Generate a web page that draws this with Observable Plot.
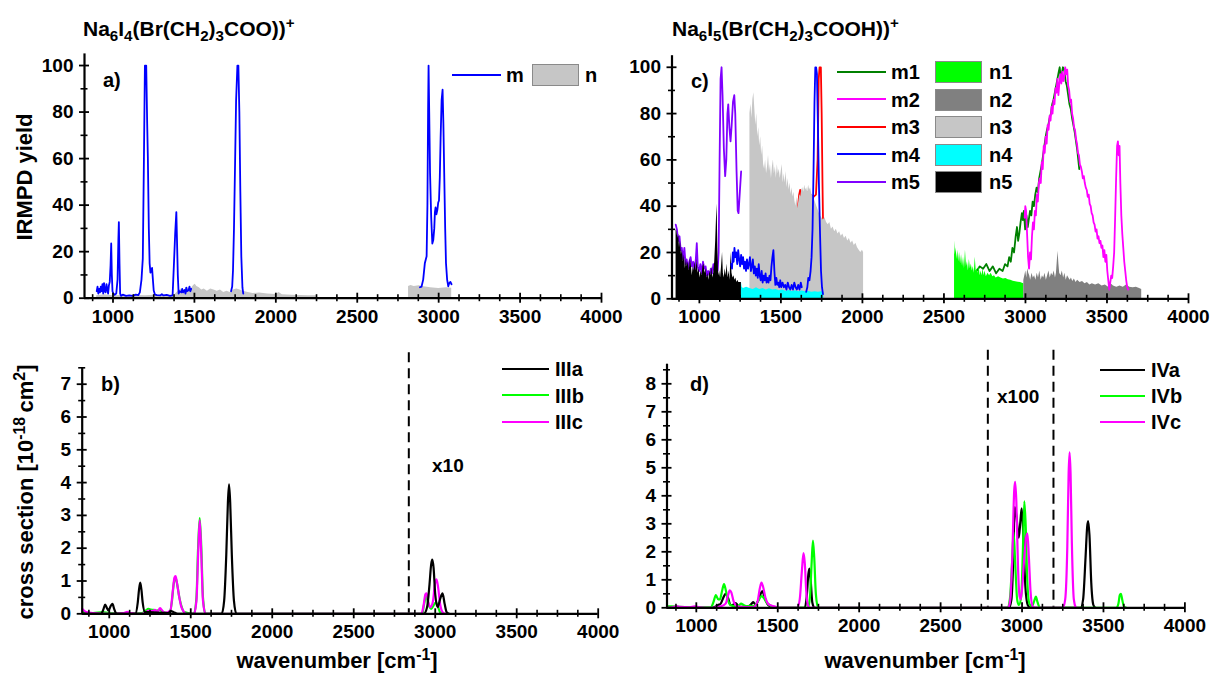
<!DOCTYPE html>
<html><head><meta charset="utf-8">
<script src="https://cdn.jsdelivr.net/npm/d3@7"></script>
<script src="https://cdn.jsdelivr.net/npm/@observablehq/plot@0.6"></script>
<style>
body{margin:0;background:#fff;}
#root{position:relative;width:1213px;height:677px;overflow:hidden;font-family:"Liberation Sans",Arial,sans-serif;font-weight:bold;color:#000;}
.t{position:absolute;white-space:nowrap;line-height:1;}
.vc{transform:translateY(-50%);}
.rot{transform:translate(-50%,-50%) rotate(-90deg);}
.ctr{transform:translate(-50%,-50%);}
sub,sup{font-size:0.72em;line-height:0;}
.pb{position:absolute;}
.ln{position:absolute;height:0;}
.sw{position:absolute;box-sizing:border-box;border:1px solid #8a8a8a;}
</style></head><body><div id="root"></div>
<script>
// ---------------- DATA ----------------
// ticks
const xMajor = [1000,1500,2000,2500,3000,3500,4000];
const yMajorTop = [0,20,40,60,80,100];
const yMinorTop = [10,30,50,70,90];
const yMajorB = [0,1,2,3,4,5,6,7];
const yMajorD = [0,1,2,3,4,5,6,7,8];

// Panel a: Na6I4(Br(CH2)3COO))+
const a_m = [[900,3],[905,5],[910,2],[915,4],[920,2.5],[925,5],[930,3],[935,6],[940,2],[945,6.5],[950,3],[955,2.5],[960,6],[965,4],[970,2],[975,5.5],[980,7],[985,14],[989,23.5],[993,10],[997,3],[1002,2],[1010,1.5],[1020,2],[1028,8],[1033,25],[1036,32.7],[1040,15],[1044,2],[1050,1],[1060,1.5],[1080,1],[1100,1.2],[1120,1],[1140,1.5],[1155,1.3],[1165,2.5],[1175,8],[1183,17],[1190,60],[1196,100],[1204,100],[1210,75],[1214,61],[1220,30],[1225,15],[1230,11],[1235,12],[1240,13],[1245,8],[1250,3.3],[1258,1.5],[1270,1.3],[1290,1.2],[1300,1.7],[1310,1.2],[1330,1.4],[1350,1.0],[1366,1.2],[1375,16],[1382,28],[1389,37],[1394,22],[1398,10],[1403,2],[1410,3],[1420,2.5],[1425,4],[1430,2.5],[1440,3.5],[1445,2],[1450,4.5],[1455,3],[1465,3.5],[1470,5],[1475,3],[1480,4],[1490,null],
  [1725,3],[1732,5],[1737,12],[1743,30],[1749,55],[1756,85],[1764,100],[1770,100],[1776,80],[1782,46],[1788,18],[1795,4.5],[1800,2],[1850,null],
  [2885,4.7],[2895,5],[2905,8],[2915,15],[2926,18],[2931,40],[2935,80],[2938,100],[2942,80],[2947,54],[2954,35],[2961,23.5],[2967,25],[2973,30],[2977,37],[2981,39],[2986,36],[2992,38],[2997,41],[3002,42],[3007,52],[3012,69],[3018,85],[3024,89.6],[3029,75],[3034,54],[3040,30],[3045,15],[3052,8],[3059,5.1],[3065,6.5],[3072,7],[3079,6]];
const a_n_low = [[900,1],[950,1.5],[1000,1],[1050,1.2],[1100,1],[1150,1.2],[1200,1],[1250,1.3],[1300,1],[1350,1.2],[1380,1.5],[1400,3],[1420,4],[1440,3.5],[1460,4.5],[1480,4],[1495,5.5],[1505,6],[1515,5],[1530,4.5],[1545,3.5],[1560,4],[1580,3],[1600,4],[1620,3.5],[1640,3],[1660,3.5],[1680,2.5],[1700,3],[1720,2.5],[1740,3.5],[1760,4],[1780,3.5],[1800,3],[1830,2.5],[1860,2],[1900,2.2],[1950,1.8],[2000,1.6],[2020,2.5],[2040,1.5],[2100,1.3],[2150,1.2],[2200,1.1],[2250,1]];
const a_n_high = [[2815,5],[2830,5.5],[2850,5],[2880,5.3],[2900,5],[2950,4.5],[3000,4.2],[3050,4.5],[3080,4.3]];

// Panel c: Na6I5(Br(CH2)3COOH))+
const c_m1 = [[2700,12],[2720,14],[2740,13],[2760,15],[2780,12],[2800,14],[2820,11],[2840,13],[2860,12],[2875,15],[2890,14],[2900,18],[2910,16],[2920,22],[2930,20],[2940,27],[2948,31],[2955,25],[2962,28],[2970,33],[2978,37],[2984,34],[2990,38],[2998,30],[3006,36],[3014,31],[3020,34],[3028,38],[3036,36],[3044,42],[3052,40],[3060,45],[3068,48],[3076,46],[3084,52],[3092,55],[3100,58],[3108,62],[3116,66],[3124,70],[3132,73],[3140,75],[3148,78],[3156,80],[3164,84],[3172,86],[3180,89],[3188,92],[3196,95],[3204,98],[3210,100],[3216,96],[3222,97],[3230,100],[3238,99],[3246,94],[3254,92],[3262,88],[3270,84],[3278,82],[3286,78],[3294,75],[3302,72],[3310,68],[3318,64],[3324,60],[3330,56]];
const c_m2 = [[2995,35],[2999,40],[3004,38],[3010,28],[3016,18],[3022,13],[3028,20],[3034,17],[3040,27],[3046,33],[3052,30],[3058,38],[3064,36],[3070,45],[3076,42],[3082,50],[3088,52],[3094,50],[3100,59],[3106,56],[3112,66],[3118,63],[3124,70],[3130,67],[3136,75],[3142,73],[3148,79],[3154,77],[3160,83],[3166,80],[3172,86],[3178,84],[3184,91],[3190,89],[3196,95],[3202,88],[3208,93],[3214,97],[3220,93],[3226,98],[3232,94],[3238,96],[3244,100],[3250,97],[3256,99],[3262,92],[3268,90],[3274,85],[3280,86],[3286,80],[3292,78],[3298,74],[3304,73],[3310,69],[3316,67],[3322,63],[3328,62],[3334,58],[3340,57],[3346,55],[3352,52],[3358,53],[3364,50],[3370,48],[3376,47],[3382,44],[3388,45],[3394,41],[3400,40],[3406,37],[3412,36],[3418,33],[3424,32],[3430,29],[3436,30],[3442,26],[3448,27],[3454,24],[3460,25],[3466,22],[3472,23],[3478,18],[3484,21],[3490,16],[3496,19],[3502,12],[3508,8],[3514,4],[3520,7],[3526,10],[3532,9],[3538,14],[3544,20],[3550,35],[3556,52],[3562,66],[3567,68],[3572,62],[3577,66],[3582,50],[3588,36],[3594,28],[3600,22],[3606,16],[3612,12],[3618,8],[3624,5],[3630,4]];
const c_m3 = [[1595,38],[1605,40],[1612,45],[1618,47],[1625,44],[1640,45],[1660,46],[1680,45],[1700,44],[1715,45],[1725,60],[1732,95],[1737,100],[1745,100],[1750,80],[1755,50],[1758,35],[1762,33]];
const c_m4 = [[1195,15],[1200,13],[1205,20],[1210,16],[1215,22],[1220,18],[1226,20],[1232,15],[1238,21],[1244,17],[1250,14],[1256,19],[1262,15],[1268,18],[1274,13],[1280,16],[1286,12],[1292,17],[1298,13],[1304,15],[1310,18],[1316,12],[1322,14],[1328,17],[1334,11],[1340,14],[1346,10],[1352,13],[1358,9],[1364,15],[1370,10],[1376,8],[1382,12],[1388,7],[1394,10],[1400,8],[1406,11],[1412,7],[1418,9],[1424,7],[1430,10],[1436,8],[1442,14],[1448,18],[1454,21],[1460,12],[1466,6],[1472,9],[1478,6],[1484,7],[1490,5],[1496,8],[1502,5],[1510,7],[1518,5],[1526,6],[1534,4],[1542,7],[1550,5],[1558,4],[1566,6],[1574,4],[1582,7],[1590,5],[1598,4],[1606,6],[1614,4],[1622,7],[1628,5],[1640,null],
  [1655,3],[1662,5],[1668,9],[1675,8],[1682,12],[1688,18],[1694,30],[1700,55],[1706,85],[1711,100],[1716,100],[1721,97],[1727,75],[1733,50],[1740,28],[1746,12],[1752,5],[1758,2]];
const c_m5 = [[855,32],[862,30],[870,25],[878,27],[885,21],[892,22],[900,17],[908,22],[915,15],[922,17],[930,13],[938,16],[946,18],[954,14],[962,16],[970,12],[978,17],[984,24],[990,14],[998,12],[1006,15],[1014,11],[1022,16],[1030,13],[1038,14],[1046,10],[1054,12],[1062,10],[1070,13],[1078,11],[1086,15],[1094,12],[1100,14],[1106,16],[1112,12],[1118,20],[1124,60],[1130,95],[1136,100],[1142,88],[1150,65],[1158,53],[1165,60],[1172,80],[1177,84],[1184,74],[1191,68],[1198,75],[1206,85],[1214,88],[1220,80],[1228,55],[1235,38],[1240,37],[1248,46],[1256,55]];
const c_n1 = [[2565,25],[2570,19],[2575,22],[2580,17],[2585,21],[2590,16],[2596,20],[2602,15],[2608,19],[2614,14],[2620,18],[2626,13],[2632,21],[2638,14],[2644,16],[2650,12],[2656,17],[2662,13],[2668,15],[2674,12],[2680,14],[2686,11],[2692,18],[2698,12],[2704,13],[2710,11],[2716,14],[2722,10],[2728,12],[2734,10],[2740,13],[2746,10],[2752,12],[2760,9.5],[2770,11],[2780,10],[2790,11],[2800,9.5],[2810,10],[2820,9],[2835,9.5],[2850,9],[2865,8.5],[2880,8.8],[2895,8.2],[2910,8],[2925,7.6],[2940,7.4],[2955,7.2],[2970,7],[2985,6.6],[2990,6.5]];
const c_n2 = [[2990,8],[2996,10],[3002,12],[3008,9],[3014,13],[3020,11],[3026,10],[3032,8],[3040,11],[3048,9],[3056,10],[3064,8],[3072,11],[3080,9],[3088,12],[3096,8],[3104,10],[3112,9],[3120,11],[3128,8],[3136,10],[3144,12],[3152,9],[3160,11],[3168,10],[3176,12],[3184,9],[3190,11],[3195,16],[3200,20.5],[3205,15],[3210,11],[3218,10],[3226,12],[3234,9],[3242,11],[3250,8],[3258,10],[3266,9],[3274,8],[3282,9],[3290,7.5],[3300,8.5],[3310,7],[3320,8],[3335,7],[3350,7.5],[3365,6.5],[3380,7],[3395,6],[3410,6.5],[3430,6],[3450,6.5],[3470,5.5],[3490,6],[3510,5],[3525,6.5],[3540,5.5],[3560,5],[3580,5.5],[3600,5],[3620,6],[3640,5],[3660,4.8],[3680,5],[3700,4.5],[3713,4]];
const c_n3 = [[1310,80],[1316,84],[1322,78],[1328,86],[1334,89],[1340,82],[1346,75],[1352,80],[1358,70],[1364,74],[1370,66],[1376,70],[1382,62],[1388,66],[1394,58],[1400,56],[1406,60],[1412,54],[1418,57],[1424,62],[1430,55],[1436,58],[1442,52],[1448,57],[1454,60],[1460,54],[1466,57],[1472,52],[1478,58],[1484,54],[1490,56],[1496,52],[1502,55],[1508,58],[1514,50],[1520,54],[1526,50],[1532,55],[1538,48],[1544,52],[1550,47],[1556,50],[1562,45],[1568,48],[1574,44],[1580,46],[1586,42],[1592,40],[1598,44],[1604,39],[1610,42],[1616,45],[1622,44],[1628,47],[1634,48],[1640,46],[1646,49],[1652,47],[1658,48],[1664,46],[1670,49],[1676,47],[1682,48],[1690,45],[1700,44],[1710,42],[1720,40],[1730,38],[1740,36],[1750,35],[1760,34],[1770,35],[1780,33],[1790,32],[1800,33],[1810,30],[1820,31],[1830,29],[1840,30],[1850,28],[1860,29],[1870,27],[1880,28],[1890,26],[1900,27],[1910,25],[1920,26],[1930,24],[1940,25],[1950,23],[1960,24],[1970,22],[1980,21],[1990,20],[2000,21],[2007,20]];
const c_n4 = [[1258,7],[1262,5],[1270,4.5],[1290,5],[1310,4.5],[1330,4],[1350,4.8],[1370,4],[1390,4.5],[1410,3.8],[1430,4.3],[1450,3.8],[1470,4],[1490,3.5],[1510,3.8],[1530,3.3],[1550,3.6],[1570,3.2],[1590,3.5],[1610,3],[1630,3.4],[1650,3],[1670,3.2],[1690,2.8],[1710,3],[1730,2.8],[1750,3],[1763,2.8]];
const c_n5 = [[857,30],[862,29],[868,26],[873,28],[878,22],[884,25],[890,19],[896,21],[902,16],[908,19],[914,13],[920,17],[926,14],[932,16],[938,12],[944,17],[950,15],[956,10],[962,14],[968,12],[974,16],[980,12],[986,17],[992,11],[998,13],[1004,9],[1010,12],[1016,10],[1022,14],[1028,15],[1034,11],[1040,13],[1046,9],[1052,11],[1058,8],[1064,12],[1070,10],[1076,14],[1082,9],[1088,11],[1094,16],[1100,25],[1105,35],[1109,41],[1113,22],[1118,10],[1124,12],[1130,9],[1136,14],[1142,20],[1147,11],[1152,9],[1158,13],[1164,10],[1170,15],[1176,9],[1182,12],[1188,8],[1194,20],[1200,11],[1206,9],[1212,10],[1218,8],[1224,9],[1230,7],[1236,8],[1242,7],[1250,7],[1258,7]];

// Panel b: calculated IIIa-c
const b_IIIa = [[840,0],[950,0],[965,0.15],[975,0.28],[985,0.18],[995,0.1],[1010,0.25],[1020,0.3],[1030,0.15],[1045,0],[1160,0],[1175,0.35],[1183,0.75],[1190,0.95],[1197,0.75],[1205,0.35],[1220,0.05],[1240,0.05],[1360,0.02],[1380,0.08],[1395,0.05],[1420,0],[1690,0],[1705,0.4],[1718,1.8],[1728,3.4],[1735,3.95],[1742,3.4],[1752,1.8],[1765,0.4],[1780,0],[2930,0],[2950,0.2],[2965,0.9],[2975,1.5],[2982,1.65],[2990,1.4],[3000,0.6],[3015,0.2],[3030,0.45],[3045,0.62],[3058,0.3],[3070,0.05],[3085,0]];
const b_IIIb = [[840,0.05],[870,0.03],[900,0.02],[960,0.05],[1000,0.02],[1200,0.02],[1225,0.1],[1240,0.15],[1255,0.13],[1270,0.12],[1290,0.1],[1310,0.12],[1330,0.05],[1370,0.02],[1385,0.4],[1395,0.9],[1405,1.1],[1415,0.95],[1430,0.5],[1445,0.2],[1460,0.05],[1520,0],[1535,0.5],[1545,2.0],[1555,2.92],[1565,2.0],[1575,0.5],[1590,0],[2920,0],[2932,0.3],[2945,0.55],[2958,0.3],[2975,0.15],[2995,0.3],[3005,0.35],[3015,0.25],[3030,0.05],[3050,0]];
const b_IIIc = [[835,0.15],[845,0.1],[860,0.05],[900,0.02],[1000,0],[1090,0.02],[1110,0.06],[1130,0.02],[1200,0],[1225,0.05],[1245,0.1],[1265,0.08],[1280,0.12],[1295,0.06],[1312,0.17],[1325,0.1],[1340,0.03],[1375,0.1],[1390,0.7],[1400,1.1],[1407,1.15],[1415,0.95],[1428,0.55],[1440,0.25],[1455,0.08],[1470,0],[1520,0],[1535,0.4],[1546,1.9],[1555,2.85],[1564,1.9],[1575,0.4],[1590,0],[2915,0],[2930,0.3],[2940,0.6],[2947,0.62],[2958,0.35],[2970,0.2],[2985,0.35],[2998,0.9],[3008,1.05],[3018,0.8],[3030,0.3],[3045,0.05],[3060,0]];
const b_scaleLines = [2838];
const b_scaleText = "x10";

// Panel d: calculated IVa-c
const d_IVa = [[1100,0],[1120,0.05],[1135,0.1],[1150,0.15],[1165,0.35],[1180,0.5],[1195,0.35],[1210,0.1],[1230,0.12],[1242,0.17],[1255,0.08],[1280,0.03],[1320,0.05],[1340,0.15],[1350,0.2],[1362,0.12],[1380,0.25],[1395,0.5],[1405,0.6],[1418,0.4],[1435,0.15],[1460,0.03],[1480,0],[1665,0],[1678,0.4],[1688,1.2],[1694,1.4],[1702,1.0],[1712,0.2],[1725,0],[2920,0],[2935,0.3],[2945,1.5],[2955,3.6],[2965,3.3],[2980,2.5],[2990,3.1],[2998,3.55],[3008,2.6],[3020,0.8],[3035,0.1],[3050,0],[3360,0],[3375,0.3],[3390,1.8],[3400,2.9],[3406,3.1],[3414,2.6],[3425,0.9],[3438,0.1],[3450,0]];
const d_IVb = [[820,0.05],[850,0.05],[900,0.03],[950,0.02],[1000,0.02],[1090,0.02],[1105,0.2],[1120,0.45],[1135,0.3],[1145,0.3],[1158,0.6],[1170,0.85],[1182,0.6],[1195,0.25],[1210,0.1],[1240,0.05],[1260,0.08],[1275,0.15],[1290,0.1],[1310,0.05],[1330,0.08],[1350,0.05],[1370,0.15],[1385,0.3],[1400,0.42],[1415,0.35],[1430,0.2],[1450,0.1],[1470,0.03],[1490,0],[1685,0],[1698,0.4],[1708,1.6],[1716,2.4],[1724,1.8],[1734,0.5],[1748,0],[2910,0],[2925,0.3],[2938,1.5],[2948,2.7],[2958,1.6],[2970,0.3],[2980,0.1],[2995,0.4],[3005,2.0],[3014,3.8],[3022,3.0],[3032,1.0],[3045,0.15],[3060,0.05],[3075,0.25],[3085,0.4],[3095,0.2],[3110,0],[3580,0],[3592,0.15],[3600,0.45],[3607,0.5],[3615,0.3],[3625,0.05],[3640,0]];
const d_IVc = [[820,0],[860,0.03],[880,0.06],[900,0.03],[960,0.02],[990,0.05],[1020,0.02],[1100,0],[1150,0.05],[1180,0.15],[1195,0.45],[1205,0.62],[1215,0.55],[1228,0.25],[1245,0.08],[1270,0.03],[1350,0.02],[1375,0.2],[1390,0.7],[1400,0.9],[1410,0.75],[1425,0.35],[1440,0.15],[1460,0.08],[1480,0.05],[1500,0],[1620,0],[1635,0.3],[1648,1.3],[1658,1.95],[1666,1.6],[1675,0.6],[1688,0.05],[1700,0],[2915,0],[2928,0.3],[2940,1.8],[2952,4.2],[2958,4.5],[2965,3.8],[2975,1.5],[2985,0.4],[2992,0.3],[3002,0.8],[3015,1.9],[3025,2.5],[3033,2.65],[3042,1.8],[3052,0.6],[3065,0.05],[3080,0],[3250,0],[3265,0.3],[3278,2.2],[3286,4.8],[3292,5.55],[3298,4.8],[3306,2.3],[3318,0.3],[3330,0]];
const d_scaleLines = [2790, 3193];
const d_scaleText = "x100";

// ---------------- RENDER ----------------
const root = document.getElementById("root");
const FONT = '"Liberation Sans", Arial, sans-serif';
const X = d => d[0], Y = d => d[1];

function minorTicks(lo, hi, step, majors) {
  return d3.range(Math.ceil(lo/step)*step, hi + 1e-9, step).filter(v => !majors.some(m => Math.abs(m - v) < 1e-9));
}

function panel(o) {
  const iw = o.width - o.mL - o.mR, ih = o.height - o.mT - o.mB;
  const xMinor = minorTicks(o.xDomain[0], o.xDomain[1], 125, xMajor);
  const svg = Plot.plot({
    width: o.width, height: o.height,
    marginLeft: o.mL, marginRight: o.mR, marginTop: o.mT, marginBottom: o.mB,
    x: {domain: o.xDomain, ticks: xMajor, tickSize: 0, tickPadding: 11, tickFormat: d => String(d), label: null},
    y: {domain: o.yDomain, ticks: o.yMajor, tickSize: 0, tickPadding: 11, tickFormat: d => String(d), label: null},
    style: {fontFamily: FONT, fontSize: "19px", fontWeight: "bold", color: "#000", background: "transparent", overflow: "visible"},
    marks: [
      ...o.marks,
      Plot.ruleY([0], {stroke: "#000", strokeWidth: 2.2}),
      Plot.ruleX([o.xDomain[0]], {stroke: "#000", strokeWidth: 2.2}),
      Plot.ruleX(xMajor, {x: d => d, stroke: "#000", strokeWidth: 1.8, insetTop: ih - 5, insetBottom: -5}),
      Plot.ruleX(xMinor, {x: d => d, stroke: "#000", strokeWidth: 1.6, insetTop: ih - 3.5, insetBottom: -3.5}),
      Plot.ruleY(o.yMajor, {y: d => d, stroke: "#000", strokeWidth: 1.8, insetLeft: -5, insetRight: iw - 5}),
      Plot.ruleY(o.yMinor, {y: d => d, stroke: "#000", strokeWidth: 1.6, insetLeft: -3.5, insetRight: iw - 3.5})
    ]
  });
  const box = document.createElement("div");
  box.className = "pb";
  Object.assign(box.style, {left: o.left + "px", top: o.top + "px", width: o.width + "px", height: o.height + "px"});
  box.appendChild(svg);
  root.appendChild(box);
}

const lineOpt = (stroke, w = 1.8) => ({x: X, y: Y, stroke, strokeWidth: w});
const areaOpt = (fill) => ({x: X, y: Y, fill, fillOpacity: 1});
const calcOpt = (stroke) => ({x: X, y: Y, stroke, strokeWidth: 2.2, curve: "monotone-x"});

// panel a
panel({left: 0, top: 0, width: 615, height: 340, mL: 84, mR: 14, mT: 53.4, mB: 42.3,
  xDomain: [825, 4000], yDomain: [0, 105], yMajor: yMajorTop, yMinor: yMinorTop,
  marks: [
    Plot.areaY(a_n_low, areaOpt("#c6c6c6")),
    Plot.areaY(a_n_high, areaOpt("#c6c6c6")),
    Plot.line(a_m, lineOpt("#0000ff"))
  ]});

// panel c
panel({left: 615, top: 0, width: 598, height: 340, mL: 56.5, mR: 25, mT: 55.2, mB: 41.7,
  xDomain: [832, 4000], yDomain: [0, 105], yMajor: yMajorTop, yMinor: yMinorTop,
  marks: [
    Plot.line(c_m3, lineOpt("#ff0000")),
    Plot.areaY(c_n3, areaOpt("#c6c6c6")),
    Plot.line(c_m5, lineOpt("#8000ff")),
    Plot.areaY(c_n5, areaOpt("#000000")),
    Plot.areaY(c_n4, areaOpt("#00ffff")),
    Plot.line(c_m4, lineOpt("#0000ff")),
    Plot.line(c_m1, lineOpt("#008000")),
    Plot.areaY(c_n1, areaOpt("#00ff00")),
    Plot.areaY(c_n2, areaOpt("#808080")),
    Plot.line(c_m2, lineOpt("#ff00ff"))
  ]});

// panel b
panel({left: 0, top: 340, width: 615, height: 337, mL: 81.7, mR: 17.3, mT: 27.3, mB: 63.7,
  xDomain: [834, 4000], yDomain: [0, 7.5], yMajor: yMajorB, yMinor: minorTicks(0, 7.5, 0.5, yMajorB),
  marks: [
    Plot.ruleX(b_scaleLines, {x: d => d, stroke: "#000", strokeWidth: 2, strokeDasharray: "10,6", insetTop: -15}),
    Plot.line(b_IIIb, calcOpt("#00ff00")),
    Plot.line(b_IIIc, calcOpt("#ff00ff")),
    Plot.line(b_IIIa, calcOpt("#000000"))
  ]});

// panel d
panel({left: 615, top: 340, width: 598, height: 337, mL: 51.5, mR: 28.6, mT: 23.7, mB: 69.7,
  xDomain: [820, 4000], yDomain: [0, 8.7], yMajor: yMajorD, yMinor: minorTicks(0, 8.7, 0.5, yMajorD),
  marks: [
    Plot.ruleX(d_scaleLines, {x: d => d, stroke: "#000", strokeWidth: 2, strokeDasharray: "10,6", insetTop: -14}),
    Plot.line(d_IVa, calcOpt("#000000")),
    Plot.line(d_IVb, calcOpt("#00ff00")),
    Plot.line(d_IVc, calcOpt("#ff00ff"))
  ]});

// ---------------- TEXT & LEGENDS ----------------
function txt(html, left, top, size, cls = "t vc") {
  const d = document.createElement("div");
  d.className = cls;
  d.innerHTML = html;
  Object.assign(d.style, {left: left + "px", top: top + "px", fontSize: size + "px"});
  root.appendChild(d);
  return d;
}
function legLine(color, x1, x2, y) {
  const d = document.createElement("div");
  d.className = "ln";
  Object.assign(d.style, {left: x1 + "px", top: (y - 1.25) + "px", width: (x2 - x1) + "px", borderTop: "2.5px solid " + color});
  root.appendChild(d);
}
function legBox(color, x, y, w, h) {
  const d = document.createElement("div");
  d.className = "sw";
  Object.assign(d.style, {left: x + "px", top: y + "px", width: w + "px", height: h + "px", background: color});
  root.appendChild(d);
}

// titles
txt("Na<sub>6</sub>I<sub>4</sub>(Br(CH<sub>2</sub>)<sub>3</sub>COO))<sup>+</sup>", 83, 28, 21);
txt("Na<sub>6</sub>I<sub>5</sub>(Br(CH<sub>2</sub>)<sub>3</sub>COOH))<sup>+</sup>", 672, 28, 21);
// axis titles
txt("IRMPD yield", 25, 177, 22, "t rot");
txt("cross section [10<sup>-18</sup>&thinsp;cm<sup>2</sup>]", 26, 492, 22, "t rot");
txt("wavenumber [cm<sup>-1</sup>]", 337, 661, 22, "t ctr");
txt("wavenumber [cm<sup>-1</sup>]", 925, 661, 22, "t ctr");
// panel labels
txt("a)", 103, 80, 20);
txt("b)", 101, 384, 20);
txt("c)", 691, 81, 20);
txt("d)", 690, 384, 20);
txt(b_scaleText, 432, 465, 19);
txt(d_scaleText, 997, 396, 19);

// legend a
const legA = [{k: "m", c: "#0000ff"}, {k: "n", c: "#c6c6c6"}];
legLine(legA[0].c, 452, 501, 75); txt(legA[0].k, 506, 75, 20);
legBox(legA[1].c, 532, 64, 47, 22); txt(legA[1].k, 585, 75, 20);

// legend c
const legCm = [{k: "m1", c: "#008000"}, {k: "m2", c: "#ff00ff"}, {k: "m3", c: "#ff0000"}, {k: "m4", c: "#0000ff"}, {k: "m5", c: "#8000ff"}];
const legCn = [{k: "n1", c: "#00ff00"}, {k: "n2", c: "#808080"}, {k: "n3", c: "#c6c6c6"}, {k: "n4", c: "#00ffff"}, {k: "n5", c: "#000000"}];
legCm.forEach((e, i) => { const y = 72 + i * 27.5; legLine(e.c, 837, 886, y); txt(e.k, 891, y, 20); });
legCn.forEach((e, i) => { const y = 72 + i * 27.5; legBox(e.c, 935, y - 11, 47, 22); txt(e.k, 989, y, 20); });

// legend b
const legB = [{k: "IIIa", c: "#000000"}, {k: "IIIb", c: "#00ff00"}, {k: "IIIc", c: "#ff00ff"}];
legB.forEach((e, i) => { const y = 369 + i * 26.5; legLine(e.c, 502, 549, y); txt(e.k, 555, y, 20); });
// legend d
const legD = [{k: "IVa", c: "#000000"}, {k: "IVb", c: "#00ff00"}, {k: "IVc", c: "#ff00ff"}];
legD.forEach((e, i) => { const y = 370 + i * 26; legLine(e.c, 1100, 1145, y); txt(e.k, 1151, y, 20); });
</script>
</body></html>
